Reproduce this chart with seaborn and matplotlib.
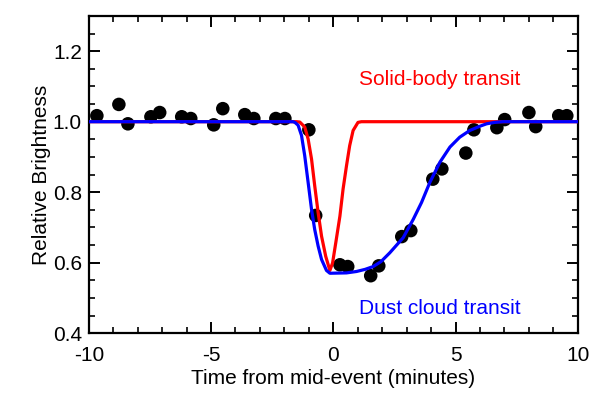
import numpy as np
import pandas as pd
import matplotlib
matplotlib.use("Agg")
import matplotlib.pyplot as plt
from matplotlib.ticker import MultipleLocator
import seaborn as sns

# observed brightness points
obs_time = [-9.67, -8.77, -8.40, -7.46, -7.10, -6.20, -5.83, -4.89, -4.52, -3.62,
            -3.25, -2.35, -1.98, -1.00, -0.72, 0.27, 0.59, 1.53, 1.86, 2.80,
            3.17, 4.07, 4.44, 5.42, 5.75, 6.69, 7.01, 8.00, 8.28, 9.22, 9.55]
obs_flux = [1.017, 1.049, 0.994, 1.014, 1.026, 1.014, 1.009, 0.991, 1.037, 1.020,
            1.009, 1.009, 1.009, 0.977, 0.734, 0.594, 0.589, 0.563, 0.591, 0.674,
            0.691, 0.837, 0.866, 0.911, 0.977, 0.983, 1.006, 1.026, 0.986, 1.017, 1.017]

# solid-body model
solid_time = [-10.0, -1.50, -1.37, -1.17, -1.03, -0.89, -0.76, -0.62, -0.48, -0.31,
              -0.14, -0.03, 0.10, 0.27, 0.40, 0.54, 0.67, 0.81, 1.01, 1.15, 10.0]
solid_flux = [1.000, 1.000, 0.999, 0.985, 0.951, 0.894, 0.818, 0.742, 0.675, 0.618,
              0.578, 0.599, 0.656, 0.732, 0.809, 0.875, 0.932, 0.975, 0.998, 1.000, 1.000]

# dust cloud model
dust_time = [-10.0, -1.65, -1.57, -1.44, -1.30, -1.17, -1.03, -0.89, -0.76, -0.62,
             -0.48, -0.28, -0.14, 0.54, 0.95, 1.30, 1.63, 1.95, 2.31, 2.86,
             3.27, 3.61, 3.95, 4.36, 4.77, 5.17, 5.58, 5.99, 6.27, 6.60, 6.93, 10.0]
dust_flux = [1.000, 1.000, 0.998, 0.990, 0.961, 0.904, 0.828, 0.751, 0.694, 0.647,
             0.609, 0.578, 0.570, 0.571, 0.575, 0.581, 0.589, 0.603, 0.628, 0.671,
             0.723, 0.771, 0.828, 0.885, 0.928, 0.956, 0.975, 0.987, 0.994, 0.998, 1.000, 1.000]

sns.set_style("ticks")
plt.rcParams['font.family'] = ['Liberation Sans', 'DejaVu Sans']
plt.rcParams['axes.unicode_minus'] = False
plt.rcParams['text.color'] = 'black'
plt.rcParams['axes.labelcolor'] = 'black'
plt.rcParams['xtick.color'] = 'black'
plt.rcParams['ytick.color'] = 'black'

fig = plt.figure(figsize=(6, 3.99), dpi=100)
ax = fig.add_axes([0.148, 0.165, 0.815, 0.795])

obs = pd.DataFrame({'t': obs_time, 'f': obs_flux})
sns.scatterplot(data=obs, x='t', y='f', ax=ax, color='black', s=95,
                edgecolor='none', zorder=2)
sns.lineplot(x=solid_time, y=solid_flux, ax=ax, color='#ff0000', lw=2.3,
             sort=False, estimator=None, zorder=3)
sns.lineplot(x=dust_time, y=dust_flux, ax=ax, color='#0000ff', lw=2.3,
             sort=False, estimator=None, zorder=4)

ax.text(4.35, 1.12, 'Solid-body transit', color='#ff0000', fontsize=15,
        ha='center', va='center')
ax.text(4.35, 0.47, 'Dust cloud transit', color='#0000ff', fontsize=15,
        ha='center', va='center')

ax.set_xlim(-10, 10)
ax.set_ylim(0.4, 1.3)
ax.xaxis.set_major_locator(MultipleLocator(5))
ax.xaxis.set_minor_locator(MultipleLocator(1))
ax.yaxis.set_minor_locator(MultipleLocator(0.05))
ax.set_yticks([0.4, 0.6, 0.8, 1.0, 1.2])
ax.set_yticklabels(['0.4', '0.6', '0.8', '1.0', '1.2'])
ax.tick_params(which='both', direction='in', top=True, right=True,
               labelsize=15, color='black', labelcolor='black')
ax.tick_params(axis='x', which='both', pad=9)
ax.tick_params(axis='y', which='both', pad=5)
ax.tick_params(which='major', length=8, width=1.4)
ax.tick_params(which='minor', length=4.5, width=1.2)
for sp in ax.spines.values():
    sp.set_visible(True)
    sp.set_linewidth(1.6)
    sp.set_color('black')

ax.set_xlabel('Time from mid-event (minutes)', fontsize=15, labelpad=3)
ax.set_ylabel('Relative Brightness', fontsize=15, labelpad=1)

fig.savefig('out.png', dpi=100)
